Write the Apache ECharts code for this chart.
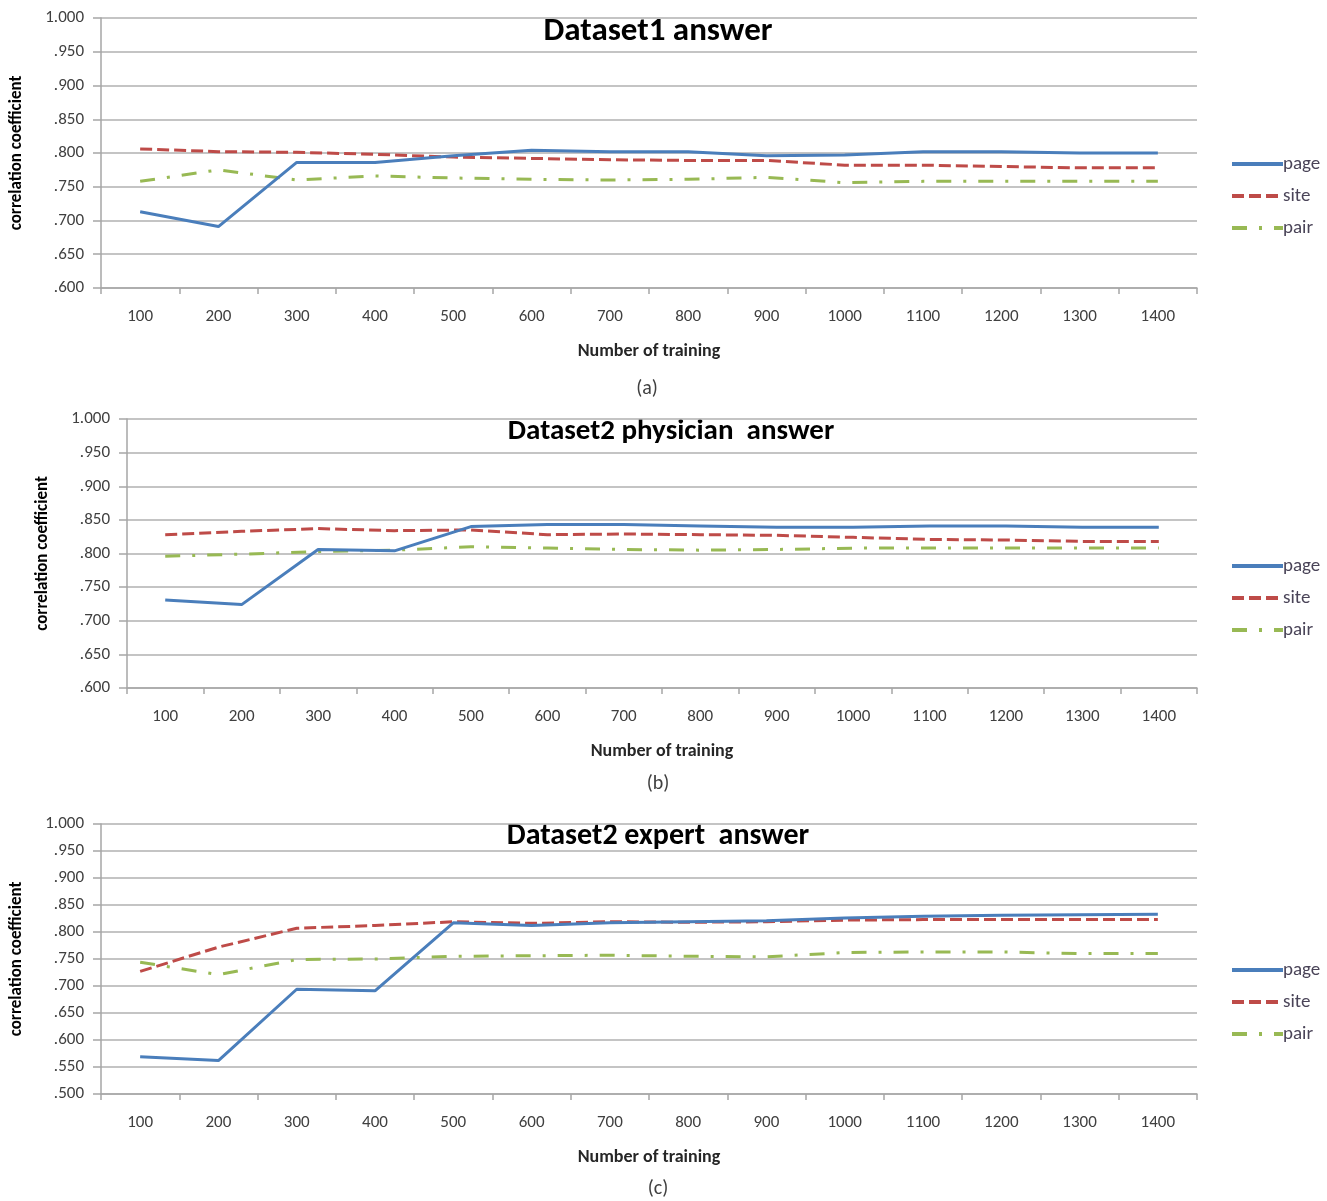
<!DOCTYPE html>
<html>
<head>
<meta charset="utf-8">
<script src="https://cdn.jsdelivr.net/npm/echarts@6/dist/echarts.min.js"></script>
<style>
html,body{margin:0;padding:0;background:#fff;}
#chart{width:1327px;height:1201px;}
</style>
</head>
<body>
<div id="chart"></div>
<script>
const categories = ['100','200','300','400','500','600','700','800','900','1000','1100','1200','1300','1400'];
const seriesNames = ['page','site','pair'];
const titles = ['Dataset1 answer','Dataset2 physician  answer','Dataset2 expert  answer'];
const captions = ['(a)','(b)','(c)'];
const xAxisName = 'Number of training';
const yAxisName = 'correlation coefficient';

// (a) Dataset1 answer
const aPage = [0.713,0.691,0.786,0.786,0.796,0.804,0.802,0.802,0.796,0.797,0.802,0.802,0.800,0.800];
const aSite = [0.806,0.802,0.801,0.798,0.794,0.792,0.790,0.789,0.789,0.782,0.782,0.780,0.778,0.778];
const aPair = [0.758,0.775,0.760,0.766,0.763,0.761,0.760,0.761,0.764,0.756,0.758,0.758,0.758,0.758];
// (b) Dataset2 physician answer
const bPage = [0.731,0.724,0.806,0.804,0.840,0.843,0.843,0.841,0.839,0.839,0.841,0.841,0.839,0.839];
const bSite = [0.828,0.833,0.837,0.834,0.835,0.828,0.829,0.828,0.827,0.824,0.821,0.820,0.818,0.818];
const bPair = [0.796,0.799,0.803,0.805,0.810,0.808,0.806,0.805,0.806,0.808,0.808,0.808,0.808,0.808];
// (c) Dataset2 expert answer
const cPage = [0.569,0.562,0.694,0.691,0.817,0.812,0.817,0.819,0.821,0.826,0.829,0.831,0.832,0.833];
const cSite = [0.727,0.772,0.807,0.812,0.819,0.816,0.819,0.818,0.819,0.822,0.823,0.823,0.823,0.823];
const cPair = [0.744,0.721,0.749,0.750,0.755,0.756,0.757,0.755,0.754,0.762,0.763,0.763,0.760,0.760];

const yMins = [0.6, 0.6, 0.5];
const yMax = 1.0;
const yStep = 0.05;

const panels = [[aPage,aSite,aPair],[bPage,bSite,bPair],[cPage,cSite,cPair]];

const FONT = "Carlito, 'Liberation Sans Narrow', 'Open Sans', sans-serif";
const colors = ['#4A7EBB','#BE4B48','#98B954'];
const dashes = ['solid',[12,5],[15,12,3,12]];

const grids = [
  {left:101, right:130, top:18, bottom:913},
  {left:127, right:130, top:419, bottom:513},
  {left:101, right:130, top:824, bottom:107}
];

const fmt = v => { const s = v.toFixed(3); return s.startsWith('0') ? s.slice(1) : s; };

const xAxes = grids.map((g,i)=>({
  type:'category', gridIndex:i, data:categories, boundaryGap:true,
  axisLine:{lineStyle:{color:'#A6A6A6',width:1.5}},
  axisTick:{show:true, length:6, alignWithLabel:false, lineStyle:{color:'#A6A6A6',width:1.5}},
  axisLabel:{margin:20, color:'#404040', fontFamily:FONT, fontSize:17},
  name:xAxisName, nameLocation:'middle', nameGap:54,
  nameTextStyle:{fontFamily:FONT, fontSize:18, fontWeight:'bold', color:'#262626'},
  splitLine:{show:false}
}));
const yAxes = grids.map((g,i)=>({
  type:'value', gridIndex:i, min:yMins[i], max:yMax, interval:yStep,
  axisLine:{show:true, lineStyle:{color:'#A6A6A6',width:1.5}},
  axisTick:{show:true, length:8, lineStyle:{color:'#A6A6A6',width:1.5}},
  axisLabel:{margin:17, color:'#404040', fontFamily:FONT, fontSize:17, formatter:fmt},
  splitLine:{show:true, lineStyle:{color:'#B0B0B0',width:1.5}},
  name:yAxisName, nameLocation:'middle', nameGap:76,
  nameTextStyle:{fontFamily:FONT, fontSize:17, fontWeight:'bold', color:'#000'}
}));

const series = [];
panels.forEach((arrs,i)=>{
  arrs.forEach((d,k)=>{
    series.push({
      type:'line', name:seriesNames[k], xAxisIndex:i, yAxisIndex:i, data:d,
      symbol:'none', showSymbol:false, smooth:false,
      lineStyle:{color:colors[k], width:3, type:dashes[k]},
      itemStyle:{color:colors[k]},
      z: 10-k
    });
  });
});

const legendTops = [149, 551, 955];
const legends = legendTops.map(t=>({
  orient:'vertical', left:1225, top:t, itemWidth:51, itemHeight:14, itemGap:12,
  data:seriesNames, selectedMode:false,
  itemStyle:{color:'rgba(0,0,0,0)', borderColor:'rgba(0,0,0,0)', borderWidth:0},
  lineStyle:{width:4},
  textStyle:{fontFamily:FONT, fontSize:19, lineHeight:20, color:'#4a4458', padding:[0,0,0,-5]}
}));

const titleDefs = [
  {x:658, y:32, t:titles[0], s:33},
  {x:671, y:432, t:titles[1], s:29},
  {x:658, y:836, t:titles[2], s:30}
];
const capDefs = [
  {x:647, y:389, t:captions[0]},
  {x:658, y:784, t:captions[1]},
  {x:658, y:1189, t:captions[2]}
];
const graphic = [];
titleDefs.forEach(d=>graphic.push({type:'text', x:d.x, y:d.y, style:{text:d.t, textAlign:'center', textVerticalAlign:'middle', font:"bold "+d.s+"px "+FONT, fill:'#000'}}));
capDefs.forEach(d=>graphic.push({type:'text', x:d.x, y:d.y, style:{text:d.t, textAlign:'center', textVerticalAlign:'middle', font:"20px "+FONT, fill:'#404040'}}));

const chart = echarts.init(document.getElementById('chart'), null, {renderer:'canvas'});
chart.setOption({
  animation:false,
  backgroundColor:'#fff',
  grid:grids,
  xAxis:xAxes,
  yAxis:yAxes,
  legend:legends,
  series:series,
  graphic:graphic
});
</script>
</body>
</html>
